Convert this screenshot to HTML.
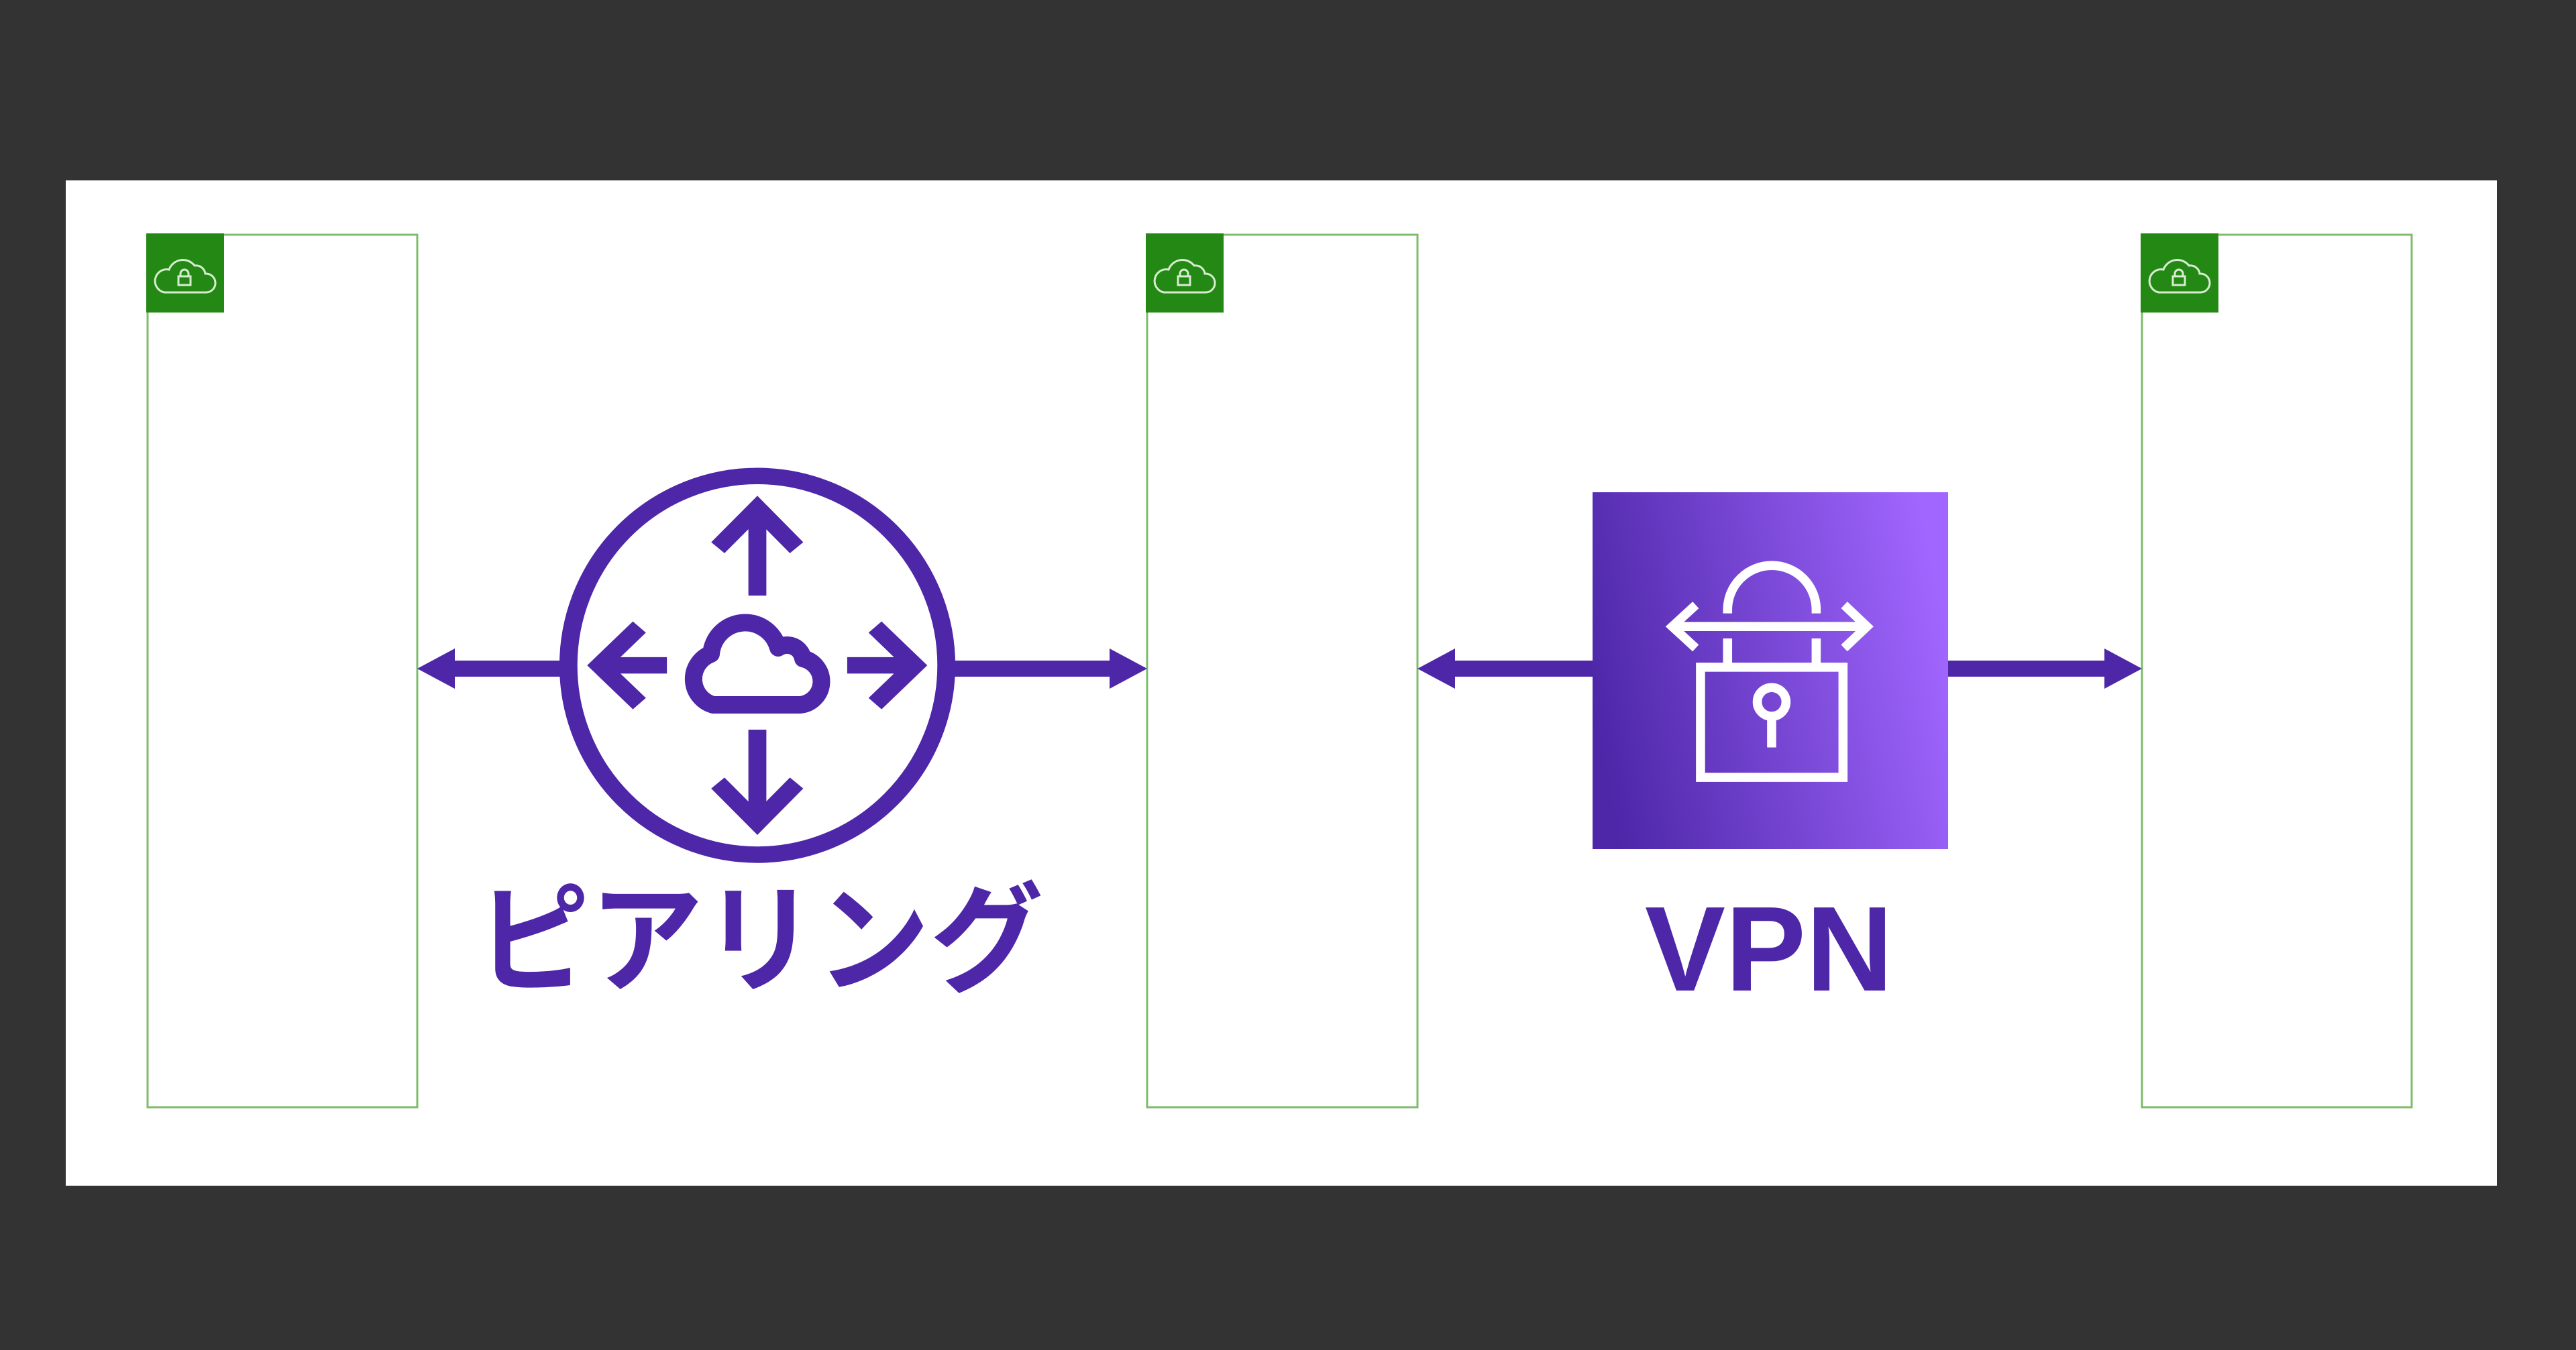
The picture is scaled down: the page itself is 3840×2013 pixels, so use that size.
<!DOCTYPE html>
<html><head><meta charset="utf-8"><style>
html,body{margin:0;padding:0;background:#333333;}
svg{display:block}
</style></head><body>
<svg width="3840" height="2013" viewBox="0 0 3840 2013" xmlns="http://www.w3.org/2000/svg">
<defs>
<linearGradient id="g" x1="0" y1="0.6" x2="1" y2="0.4">
<stop offset="0" stop-color="#4d27a8"/><stop offset="1" stop-color="#a166ff"/>
</linearGradient>
</defs>
<rect x="0" y="0" width="3840" height="2013" fill="#333333"/>
<rect x="98" y="269" width="3624" height="1499" fill="#ffffff"/>

<g fill="none" stroke="#7cbc6a" stroke-width="3">
<rect x="220" y="350" width="402" height="1301"/>
<rect x="1710" y="350" width="403" height="1301"/>
<rect x="3193" y="350" width="402" height="1301"/>
</g>
<g id="vpcicon">
<rect x="218" y="348" width="116" height="118" fill="#248814"/>
<path d="M245,436 H308 A14,14 0 0 0 306,408 A14,14 0 0 0 290,396 A22,22 0 0 0 252,402 A16,16 0 0 0 245,436 Z" fill="none" stroke="#d8ecd2" stroke-width="3"/>
<rect x="266" y="412" width="18" height="13" fill="none" stroke="#d8ecd2" stroke-width="3"/>
<path d="M269,412 V408 A6,6 0 0 1 281,408 V412" fill="none" stroke="#d8ecd2" stroke-width="3"/>
</g>
<use href="#vpcicon" x="1490" y="0"/>
<use href="#vpcicon" x="2973" y="0"/>

<g fill="#4d27a8">
<rect x="670" y="985" width="165" height="24"/>
<polygon points="622,997 678,967 678,1027"/>
<rect x="1420" y="985" width="240" height="24"/>
<polygon points="1710,997 1654,967 1654,1027"/>
<rect x="2160" y="985" width="215" height="24"/>
<polygon points="2113,997 2169,967 2169,1027"/>
<rect x="2903" y="985" width="240" height="24"/>
<polygon points="3193,997 3137,967 3137,1027"/>
</g>

<g transform="matrix(0.4464,0,0,0.408,800,680)" fill="none" stroke="#4d27a8" stroke-width="60" stroke-linejoin="miter">
<ellipse cx="737" cy="765" rx="631" ry="692"/>
<line x1="737" y1="510" x2="737" y2="200"/>
<polyline points="605,335 737,190 868,335"/>
<line x1="737" y1="1000" x2="737" y2="1330"/>
<polyline points="605,1195 737,1340 868,1195"/>
<line x1="435" y1="765" x2="220" y2="765"/>
<polyline points="343,625 210,765 343,905"/>
<line x1="1037" y1="765" x2="1255" y2="765"/>
<polyline points="1130,625 1263,765 1130,905"/>
</g>
<path d="M1063,1051 H1193 A35,35 0 0 0 1197,982 A24,24 0 0 0 1160,966 A51,51 0 0 0 1060,975 A40,40 0 0 0 1063,1051 Z" fill="none" stroke="#4d27a8" stroke-width="26" stroke-linejoin="round"/>

<rect x="2374" y="734" width="530" height="532" fill="url(#g)"/>
<g transform="translate(2360,720) scale(0.357)" fill="none" stroke="#ffffff" stroke-width="38">
<path d="M603,545 V530 A184,184 0 0 1 973,530 V545"/>
<line x1="380" y1="600" x2="1180" y2="600"/>
<polyline points="470,510 372,600 470,690"/>
<polyline points="1090,510 1185,600 1090,690"/>
<line x1="603" y1="650" x2="603" y2="770"/>
<line x1="973" y1="650" x2="973" y2="770"/>
<rect x="490" y="770" width="595" height="460"/>
<circle cx="787" cy="915" r="60"/>
<line x1="787" y1="975" x2="787" y2="1105"/>
</g>

<text x="710" y="1465" font-family="'Liberation Sans','Noto Sans CJK JP',sans-serif" font-weight="bold" font-size="178" fill="#4d27a8" textLength="845" lengthAdjust="spacingAndGlyphs">ピアリング</text>
<text x="2637" y="1477" text-anchor="middle" font-family="'Liberation Sans',sans-serif" font-weight="bold" font-size="180" fill="#4d27a8">VPN</text>
</svg>
</body></html>
